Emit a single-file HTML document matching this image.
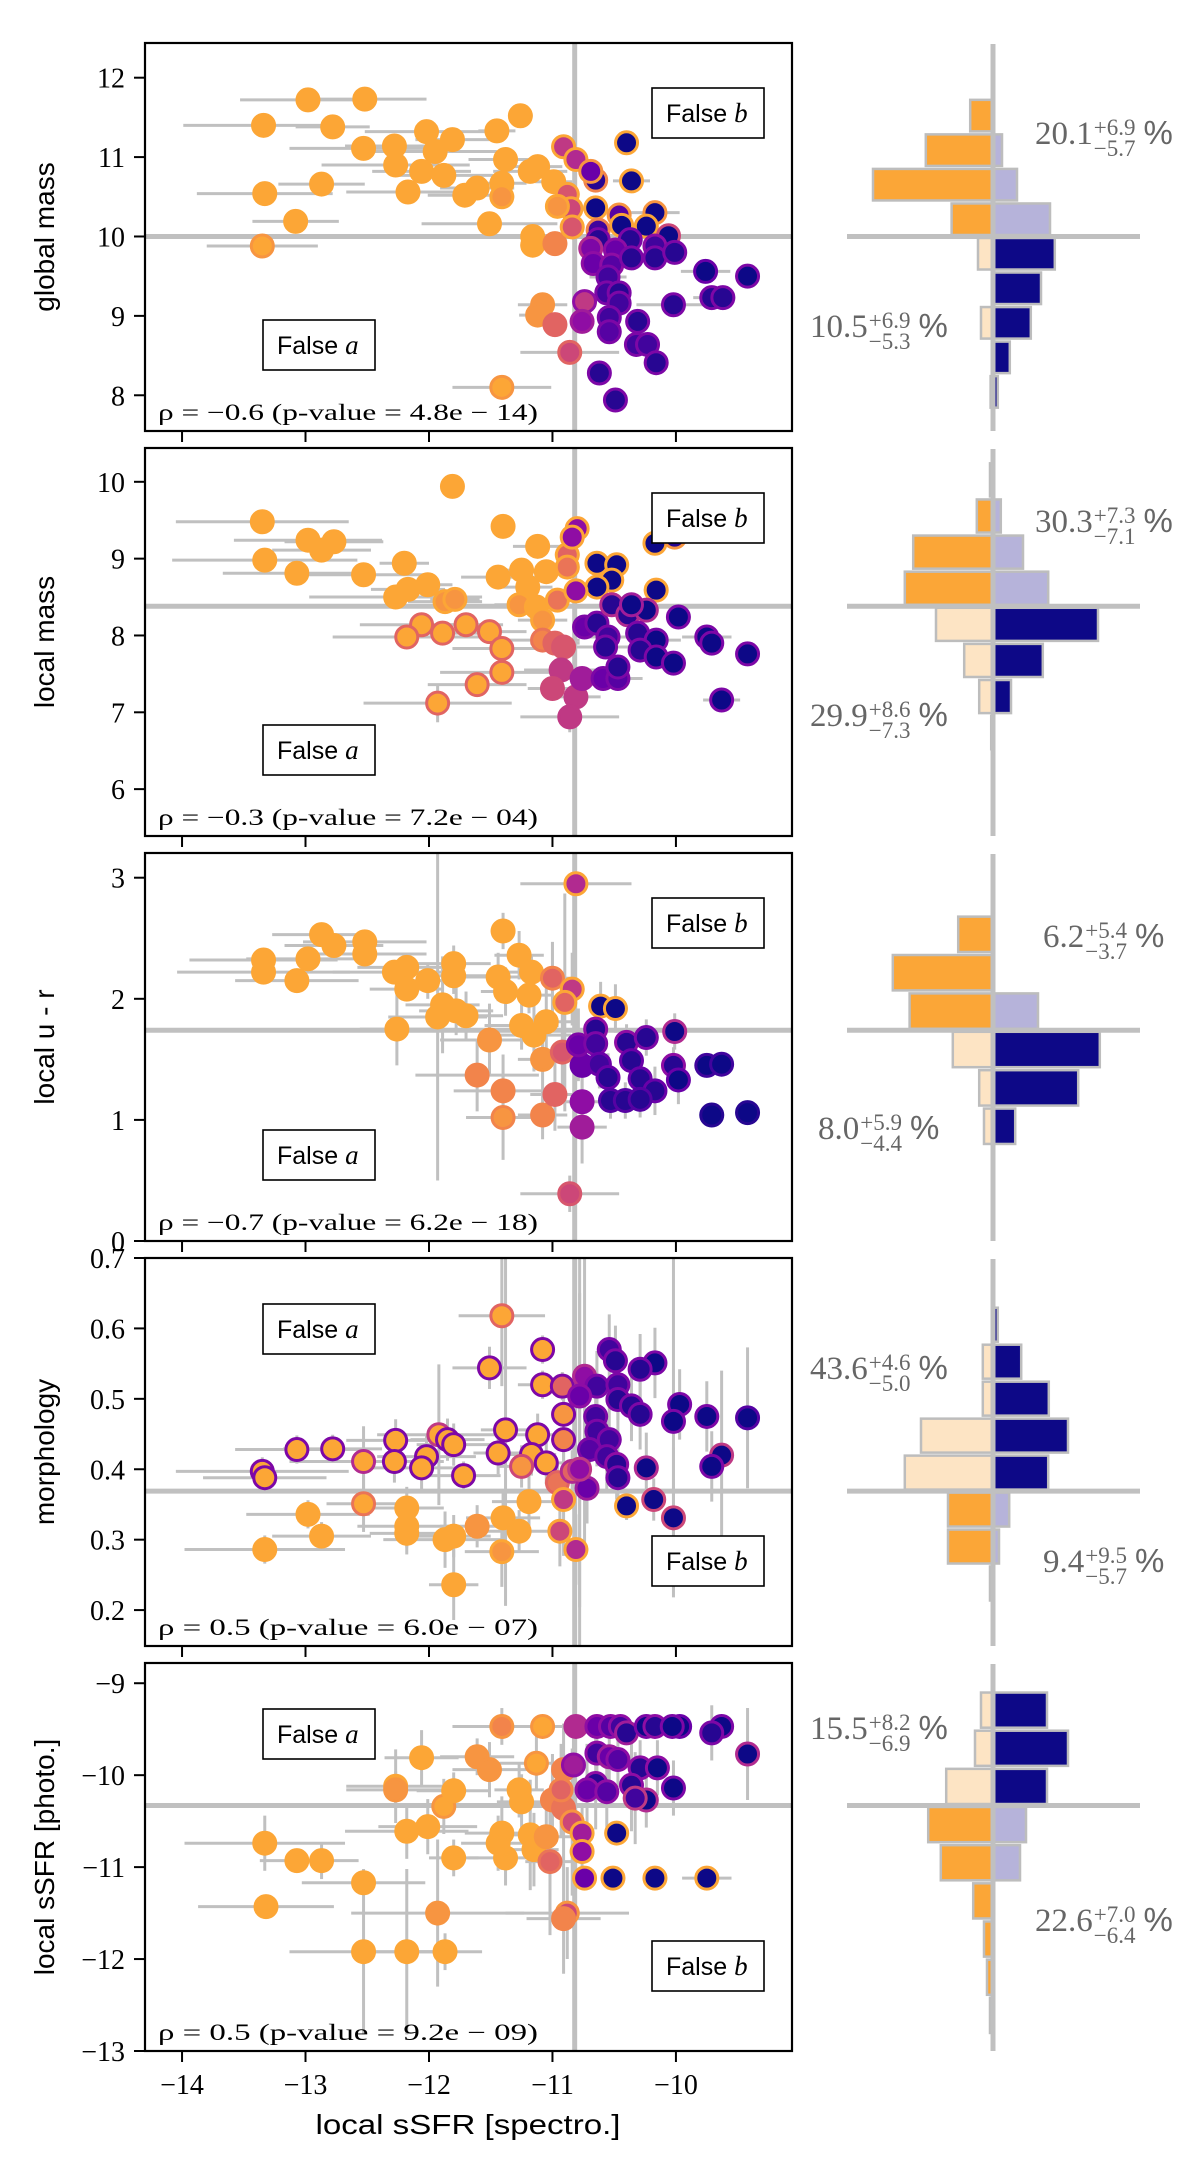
<!DOCTYPE html>
<html><head><meta charset="utf-8">
<style>
html,body{margin:0;padding:0;background:#fff;}
#wrap{position:relative;width:1200px;height:2182px;overflow:hidden;}
svg{position:absolute;left:0;top:0;}
.pct{position:absolute;font-family:"Liberation Serif",serif;font-size:33px;color:#666;white-space:nowrap;line-height:1;}
.ss{display:inline-block;vertical-align:-12px;font-size:23px;line-height:21px;margin-left:1px;}
.ss span{display:block;}
.pc{font-family:"Liberation Sans",sans-serif;margin-left:8px;}
</style></head>
<body>
<div id="wrap">
<svg id="chart" width="1200" height="2182" viewBox="0 0 1200 2182" xmlns="http://www.w3.org/2000/svg"></svg>

<div class="pct" style="left:1035px;top:116px">20.1<span class="ss"><span>+6.9</span><span>−5.7</span></span><span class="pc">%</span></div>
<div class="pct" style="left:810px;top:309px">10.5<span class="ss"><span>+6.9</span><span>−5.3</span></span><span class="pc">%</span></div>
<div class="pct" style="left:1035px;top:504px">30.3<span class="ss"><span>+7.3</span><span>−7.1</span></span><span class="pc">%</span></div>
<div class="pct" style="left:810px;top:698px">29.9<span class="ss"><span>+8.6</span><span>−7.3</span></span><span class="pc">%</span></div>
<div class="pct" style="left:1043px;top:919px">6.2<span class="ss"><span>+5.4</span><span>−3.7</span></span><span class="pc">%</span></div>
<div class="pct" style="left:818px;top:1111px">8.0<span class="ss"><span>+5.9</span><span>−4.4</span></span><span class="pc">%</span></div>
<div class="pct" style="left:810px;top:1351px">43.6<span class="ss"><span>+4.6</span><span>−5.0</span></span><span class="pc">%</span></div>
<div class="pct" style="left:1043px;top:1544px">9.4<span class="ss"><span>+9.5</span><span>−5.7</span></span><span class="pc">%</span></div>
<div class="pct" style="left:810px;top:1711px">15.5<span class="ss"><span>+8.2</span><span>−6.9</span></span><span class="pc">%</span></div>
<div class="pct" style="left:1035px;top:1903px">22.6<span class="ss"><span>+7.0</span><span>−6.4</span></span><span class="pc">%</span></div>
</div>

<script>
// ---------- data ----------
const xTicks = [-14,-13,-12,-11,-10];
const vThreshold = -10.82;

// panel 1: global mass
const p1x = [-12.98,-12.52,-13.34,-12.78,-11.26,-12.02,-11.45,-12.53,-12.28,-11.81,-11.95,-11.38,-12.27,-12.06,-11.88,-12.87,-13.33,-12.17,-11.71,-11.61,-11.41,-11.18,-11.12,-10.99,-13.08,-11.51,-13.35,-11.16,-11.16,-11.41,-10.98,-11.41,-11.08,-11.12,-10.98,-10.86,-10.91,-10.81,-10.88,-10.85,-10.84,-10.96,-10.40,-10.36,-10.65,-10.69,-10.65,-10.46,-10.17,-10.44,-10.24,-10.63,-10.06,-10.63,-10.37,-10.17,-10.69,-10.49,-10.67,-10.52,-10.36,-10.17,-10.01,-9.76,-9.42,-10.55,-10.56,-10.46,-10.74,-10.46,-10.02,-9.71,-9.62,-10.76,-10.54,-10.54,-10.31,-10.32,-10.23,-10.16,-10.62,-10.49];
const p1y = [11.72,11.73,11.40,11.38,11.52,11.32,11.33,11.11,11.14,11.22,11.07,10.97,10.90,10.82,10.77,10.66,10.54,10.56,10.52,10.61,10.67,10.82,10.88,10.69,10.19,10.16,9.88,10.0,9.89,10.50,9.91,8.10,9.14,9.01,8.89,8.54,11.13,10.97,10.53,10.35,10.12,10.38,11.18,10.70,10.71,10.82,10.36,10.27,10.30,10.14,10.13,10.08,10.01,9.96,9.96,9.88,9.85,9.83,9.66,9.64,9.73,9.73,9.80,9.56,9.50,9.49,9.29,9.29,9.18,9.16,9.14,9.23,9.23,8.93,8.98,8.80,8.93,8.64,8.64,8.41,8.28,7.94];
const p1face = [.8,.8,.8,.8,.8,.8,.8,.8,.8,.8,.8,.8,.8,.8,.8,.8,.8,.8,.8,.8,.8,.8,.8,.8,.8,.8,.8,.8,.8,.75,.7,.8,.75,.75,.6,.5,.45,.4,.55,.5,.55,.75,0,0,.05,.2,0,.15,0,0,0,.1,0,.05,.05,.1,.25,.2,.2,.15,.05,.05,.05,0,0,.1,.1,.05,.45,.1,.05,.05,.05,.3,.1,.15,.05,.1,.1,.05,.05,.05];
const p1edge = [.8,.8,.8,.8,.8,.8,.8,.8,.8,.8,.8,.8,.8,.8,.8,.8,.8,.8,.8,.8,.8,.8,.8,.8,.8,.8,.75,.8,.8,.8,.7,.75,.75,.75,.6,.6,.8,.8,.8,.8,.8,.8,.8,.8,.7,.75,.8,.75,.75,.8,.8,.7,.5,.25,.25,.3,.4,.3,.3,.3,.25,.25,.25,.2,.25,.25,.25,.25,.3,.25,.25,.25,.25,.35,.25,.25,.25,.25,.25,.25,.25,.25];
const p1xerr = [.55,.5,.65,.3,.1,.5,.15,.6,.4,.3,.5,.3,.6,.4,.4,.35,.55,.5,.3,.3,.2,.3,.2,.15,.35,.55,.45,.1,.1,.1,.1,.4,.2,.15,.1,.4,.1,.1,.1,.1,.1,.1,.05,.15,.1,.1,.1,.1,.2,.1,.1,.1,.1,.1,.1,.1,.1,.1,.1,.1,.1,.1,.1,.2,.1,.15,.1,.1,.1,.1,.3,.15,.1,.1,.1,.1,.1,.1,.1,.1,.05,.05];
const p1yerr = [];

// panel 2: local mass
const p2x = [-11.81,-13.35,-12.98,-12.87,-12.77,-13.33,-13.07,-12.53,-12.20,-12.27,-12.17,-12.01,-11.87,-11.79,-11.40,-11.12,-11.44,-11.25,-11.20,-11.05,-11.27,-11.13,-11.08,-10.96,-10.88,-10.88,-12.06,-12.18,-11.89,-11.70,-11.51,-11.41,-11.41,-11.61,-11.93,-11.08,-10.98,-10.91,-10.93,-11.00,-10.81,-10.86,-10.76,-10.80,-10.84,-10.64,-10.48,-10.52,-10.64,-10.81,-10.17,-10.01,-10.16,-10.74,-10.64,-10.52,-10.39,-10.24,-10.36,-10.55,-10.31,-10.16,-10.57,-10.29,-10.16,-10.02,-9.98,-9.75,-9.71,-9.42,-9.63,-10.59,-10.47,-10.47];
const p2y = [9.94,9.48,9.24,9.11,9.22,8.98,8.81,8.79,8.94,8.50,8.60,8.66,8.44,8.47,9.42,9.16,8.76,8.85,8.63,8.83,8.40,8.37,8.20,8.46,9.05,8.89,8.14,7.98,8.03,8.14,8.05,7.83,7.52,7.36,7.12,7.94,7.90,7.85,7.55,7.31,7.20,6.94,7.44,9.39,9.28,8.94,8.92,8.72,8.63,8.58,9.20,9.28,8.59,8.11,8.16,8.40,8.27,8.33,8.40,7.98,8.03,7.94,7.85,7.81,7.72,7.64,8.24,7.98,7.90,7.76,7.16,7.44,7.44,7.59];
const p2face = [.8,.8,.8,.8,.8,.8,.8,.8,.8,.8,.8,.8,.75,.75,.8,.8,.8,.8,.8,.8,.75,.8,.75,.65,.6,.65,.8,.8,.8,.8,.8,.8,.8,.8,.8,.7,.6,.55,.45,.5,.45,.45,.35,.3,.3,0,0,0,0,.3,0,.05,0,.2,.05,.05,.05,0,0,.1,.05,0,.05,.05,0,0,0,0,0,0,0,.2,.15,.05];
const p2edge = [.8,.8,.8,.8,.8,.8,.8,.8,.8,.8,.8,.8,.8,.8,.8,.8,.8,.8,.8,.8,.8,.8,.8,.8,.8,.8,.6,.6,.6,.6,.6,.6,.6,.6,.6,.65,.6,.55,.45,.5,.45,.45,.35,.8,.8,.8,.8,.8,.8,.8,.8,.75,.8,.25,.25,.4,.4,.4,.35,.25,.25,.25,.25,.25,.25,.25,.25,.25,.25,.25,.25,.25,.25,.25];
const p2xerr = [0,.7,.6,.4,.4,.75,.6,.5,.2,.7,.3,.2,.3,.2,0,.2,.3,.2,.2,.2,.2,.2,.2,.1,.1,.1,.5,.6,.3,.3,.3,.4,.5,.4,.6,.3,.2,.2,.3,.2,.2,.4,.2,.1,.1,.1,.1,.1,.1,.1,.1,.1,.1,.1,.1,.1,.1,.1,.1,.2,.1,.2,.3,.1,.1,.1,.1,.2,.1,.05,.15,.2,.2,.1];
const p2yerr = [0,0,0,0,0,0,0,0,0,0,0,0,0,0,0,0,0,0,0,0,0,0,0,0,0,0,0,0,0,0,0,0,0,.15,.25,0,0,0,0,.1,0,.2,.1,0,0,0,0,0,0,0,0,0,0,0,0,0,0,0,0,0,0,0,0,0,0,0,0,0,0,0,0,.1,.1,0];

// panel 3: local u - r
const p3x = [-10.81,-12.87,-12.77,-12.52,-12.52,-13.34,-13.34,-12.98,-13.07,-11.40,-11.27,-12.28,-12.18,-12.18,-12.01,-11.80,-11.80,-11.44,-11.38,-11.17,-11.19,-11.89,-11.93,-11.78,-11.70,-12.26,-11.25,-11.15,-11.05,-11.51,-11.08,-11.61,-11.40,-11.40,-11.08,-11.00,-10.84,-10.90,-10.92,-10.98,-10.86,-10.76,-10.76,-10.76,-10.79,-10.61,-10.49,-10.65,-10.65,-10.40,-10.24,-10.01,-10.62,-10.36,-10.55,-10.29,-10.17,-10.02,-9.98,-9.75,-9.63,-10.53,-10.41,-10.29,-9.71,-9.42];
const p3y = [2.95,2.53,2.44,2.47,2.37,2.32,2.22,2.33,2.15,2.56,2.36,2.22,2.26,2.08,2.15,2.29,2.19,2.18,2.06,2.22,2.03,1.95,1.85,1.90,1.86,1.75,1.78,1.70,1.81,1.66,1.50,1.37,1.24,1.02,1.04,2.17,2.08,1.97,1.56,1.21,0.39,1.15,0.94,1.45,1.62,1.94,1.92,1.75,1.63,1.64,1.68,1.73,1.46,1.49,1.35,1.34,1.24,1.45,1.33,1.45,1.46,1.16,1.16,1.17,1.04,1.06];
const p3face = [.4,.8,.8,.8,.8,.8,.8,.8,.8,.8,.8,.8,.8,.8,.8,.8,.8,.8,.8,.8,.8,.8,.8,.8,.8,.8,.8,.8,.8,.75,.75,.7,.7,.75,.7,.6,.45,.6,.55,.6,.5,.3,.35,.2,.2,0,0,.05,.1,.05,.05,0,.1,.05,.05,.05,.05,.05,0,0,0,.05,.05,.05,0,0];
const p3edge = [.8,.8,.8,.8,.8,.8,.8,.8,.8,.8,.8,.8,.8,.8,.8,.8,.8,.8,.8,.8,.8,.8,.8,.8,.8,.8,.8,.8,.8,.75,.75,.7,.7,.7,.7,.7,.8,.8,.6,.6,.55,.3,.35,.2,.25,.8,.8,.3,.25,.3,.25,.4,.2,.2,.2,.2,.2,.3,.2,.1,.1,.15,.15,.15,.05,.05];
const p3xerr = [.45,.4,.4,.5,.5,.6,.7,.5,.5,.1,.2,.5,.4,.3,.3,.3,.3,.3,.2,.2,.2,.3,.4,.3,.3,.3,.3,.3,.2,.4,.2,.5,.4,.3,.2,.2,.1,.1,.2,.2,.4,.2,.2,.1,.1,.1,.1,.1,.1,.1,.1,.1,.1,.1,.1,.1,.1,.1,.1,.1,.1,.1,.1,.1,.1,.1];
const p3yerr = [.1,.05,.05,.05,.05,.05,.05,.05,.05,.15,.2,.1,.1,.1,.15,.15,.15,.2,.2,.15,.15,.4,1.35,.2,.2,.3,.2,.3,.3,.3,.3,.3,.3,.35,.2,.3,.3,.9,.4,.3,.15,.3,.3,.3,.3,.2,.2,.2,.2,.15,.15,.15,.2,.2,.2,.2,.2,.15,.2,.1,.1,.15,.15,.15,.1,.1];

// panel 4: morphology
const p4x = [-11.41,-11.08,-11.51,-11.08,-10.92,-11.38,-11.12,-12.27,-11.92,-11.85,-11.80,-13.07,-12.78,-12.53,-12.28,-12.02,-12.06,-13.35,-13.33,-11.72,-11.44,-11.17,-11.05,-11.25,-10.91,-10.91,-10.96,-10.84,-12.53,-12.98,-12.87,-13.33,-12.18,-12.18,-12.18,-11.87,-11.80,-11.61,-11.40,-11.27,-11.19,-11.41,-11.80,-10.91,-10.94,-10.81,-10.40,-10.18,-10.02,-10.54,-10.49,-10.17,-10.29,-10.74,-10.64,-10.47,-10.78,-10.47,-10.36,-10.29,-10.65,-9.97,-10.02,-9.75,-9.42,-10.64,-10.54,-10.70,-10.56,-10.48,-10.24,-10.72,-9.63,-9.71,-10.47,-10.78];
const p4y = [.618,.570,.544,.520,.518,.456,.449,.441,.449,.442,.435,.428,.429,.411,.411,.418,.402,.397,.388,.391,.423,.421,.409,.404,.442,.478,.381,.397,.351,.336,.305,.286,.345,.319,.309,.300,.305,.319,.331,.312,.354,.283,.236,.357,.312,.286,.348,.357,.331,.570,.554,.551,.542,.532,.518,.520,.504,.499,.490,.478,.475,.492,.468,.475,.473,.454,.442,.428,.418,.407,.402,.373,.420,.404,.388,.400];
const p4face = [.8,.8,.8,.8,.6,.8,.8,.8,.8,.8,.8,.8,.8,.8,.8,.8,.8,.8,.8,.8,.8,.8,.8,.75,.7,.75,.65,.6,.8,.8,.8,.8,.8,.8,.8,.8,.8,.75,.8,.8,.8,.75,.8,.45,.5,.4,0,0,0,.1,.05,0,.05,.3,.1,.1,.2,.05,.05,.05,.1,0,0,0,0,.1,.1,.15,.1,.05,0,.2,0,0,.05,.3];
const p4edge = [.6,.25,.25,.25,.25,.25,.25,.25,.45,.25,.25,.25,.25,.4,.25,.25,.25,.25,.25,.25,.25,.25,.25,.5,.25,.25,.6,.4,.65,.8,.8,.8,.8,.8,.8,.8,.8,.75,.8,.8,.8,.8,.8,.8,.8,.8,.8,.5,.5,.25,.25,.25,.25,.4,.25,.25,.3,.25,.25,.25,.25,.25,.25,.25,.15,.25,.25,.25,.25,.3,.4,.35,.45,.25,.25,.45];
const p4xerr = [.35,.1,.3,.2,.2,.2,.3,.4,.5,.3,.3,.5,.4,.6,.4,.4,.4,.7,.5,.3,.2,.2,.2,.2,.1,.1,.1,.1,.3,.5,.4,.65,.3,.4,.3,.5,.3,.3,.3,.3,.3,.3,.2,.1,.1,.1,.05,.05,.05,.1,.1,.1,.1,.1,.1,.1,.1,.1,.1,.1,.1,.1,.1,.1,.1,.1,.1,.1,.1,.1,.1,.1,.1,.1,.1,.1];
const p4yerr = [.1,.02,.03,.02,.02,.25,.03,.03,.1,.03,.03,.02,.02,.05,.03,.03,.03,.02,.02,.02,.03,.03,.03,.03,.03,.03,.03,.03,.04,.02,.02,.02,.03,.03,.03,.04,.03,.03,.04,.03,.04,.05,.05,.08,.05,.05,.02,.03,.1,.05,.05,.05,.05,.25,.05,.05,.3,.05,.05,.05,.05,.05,.25,.05,.1,.05,.05,.05,.05,.05,.05,.05,.12,.05,.05,.25];

// panel 5: local sSFR [photo.]
const p5x = [-13.33,-13.07,-12.87,-13.32,-12.53,-12.53,-12.18,-11.87,-11.93,-11.80,-12.18,-12.01,-11.88,-11.80,-12.27,-12.27,-12.06,-11.61,-11.51,-11.41,-11.08,-11.13,-11.27,-11.25,-11.41,-11.44,-11.38,-11.18,-11.15,-11.05,-10.91,-11.00,-10.91,-10.93,-10.84,-10.76,-10.76,-11.02,-10.88,-10.91,-10.74,-10.51,-10.17,-9.75,-10.48,-10.81,-10.64,-10.53,-10.45,-10.40,-10.24,-10.17,-9.97,-10.03,-9.63,-9.71,-9.42,-10.83,-10.64,-10.54,-10.47,-10.29,-10.15,-10.65,-10.72,-10.56,-10.36,-10.02,-10.24,-10.33];
const p5y = [-10.74,-10.93,-10.93,-11.43,-11.17,-11.92,-11.92,-11.92,-11.50,-10.90,-10.61,-10.56,-10.34,-10.17,-10.12,-10.16,-9.81,-9.80,-9.94,-9.47,-9.47,-9.87,-10.16,-10.29,-10.63,-10.74,-10.90,-10.65,-10.81,-10.67,-9.94,-10.27,-10.36,-10.16,-10.51,-10.63,-10.83,-10.94,-11.50,-11.56,-11.12,-11.12,-11.12,-11.12,-10.63,-9.47,-9.47,-9.47,-9.47,-9.54,-9.47,-9.47,-9.47,-9.47,-9.47,-9.54,-9.77,-9.89,-9.76,-9.80,-9.83,-9.92,-9.92,-10.09,-10.16,-10.18,-10.11,-10.14,-10.27,-10.25];
const p5face = [.8,.8,.8,.8,.8,.8,.8,.8,.75,.8,.8,.8,.8,.8,.8,.75,.8,.75,.75,.7,.8,.8,.8,.8,.8,.8,.8,.8,.8,.75,.7,.7,.65,.6,.5,.35,.3,.6,.5,.7,.2,0,0,0,0,.4,.2,.15,.1,.05,0,.05,0,0,0,.05,0,.35,.1,.2,.15,.05,0,.05,.2,.15,.05,0,0,.1];
const p5edge = [.8,.8,.8,.8,.8,.8,.8,.8,.75,.8,.8,.8,.75,.8,.8,.75,.8,.75,.75,.75,.75,.75,.8,.8,.8,.8,.8,.8,.8,.75,.7,.7,.65,.7,.75,.8,.8,.65,.75,.7,.8,.8,.8,.8,.8,.4,.3,.3,.3,.35,.25,.3,.2,.25,.25,.25,.4,.3,.3,.35,.3,.3,.3,.3,.3,.3,.3,.25,.4,.45];
const p5xerr = [.65,.3,.3,.55,.5,.6,.3,.3,.7,.2,.5,.4,.5,.3,.4,.4,.3,.3,.3,.4,.3,.3,.2,.2,.3,.3,.3,.2,.2,.2,.1,.1,.1,.1,.1,.1,.1,.2,.5,.3,.1,.1,.1,.2,.1,.1,.1,.1,.1,.1,.1,.1,.1,.1,.1,.1,.1,.1,.1,.1,.1,.1,.1,.1,.1,.1,.1,.1,.1,.1];
const p5yerr = [.3,.1,.2,.1,.1,.9,.9,.2,.8,.2,.3,.3,.3,.2,.4,.2,.3,.2,.3,.2,.1,.3,.3,.3,.4,.3,.3,.6,.4,.3,.5,.5,.6,.5,.8,.3,.3,.8,.5,.6,.05,.05,.05,.05,.05,.1,.1,.1,.1,.1,.1,.1,.1,.1,.1,.3,.5,.3,.3,.3,.3,.3,.3,.5,.5,.5,.5,.3,.3,.5];

// histogram counts (index 0 = bin adjacent to threshold)
const h1AboveLeft = [6.9,20,11.2,3.8], h1AboveRight = [9.5,4,1.5], h1BelowLeft = [2.5,0,2,0,0.4], h1BelowRight = [10.3,8,6.3,2.8,0.8];
const h2AboveLeft = [14.7,13.3,2.7,0.5], h2AboveRight = [9.2,5,1.3], h2BelowLeft = [9.5,4.8,2.3,0.3], h2BelowRight = [17.5,8.3,3];
const h3AboveLeft = [13.9,16.7,5.8], h3AboveRight = [7.5], h3BelowLeft = [6.7,2.3,1.5], h3BelowRight = [17.8,14.2,3.7];
const h4AboveLeft = [14.7,12,1.7,1.7], h4AboveRight = [9.2,12.5,9.3,4.7,0.8], h4BelowLeft = [7.5,7.5,0.5], h4BelowRight = [2.7,1];
const h5AboveLeft = [7.8,3,2], h5AboveRight = [9,12.5,9], h5BelowLeft = [10.8,8.7,3.3,1.5,1,0.5], h5BelowRight = [5.5,4.5];

const rhoLabels = ["ρ = −0.6 (p-value = 4.8e − 14)","ρ = −0.3 (p-value = 7.2e − 04)","ρ = −0.7 (p-value = 6.2e − 18)","ρ = 0.5 (p-value = 6.0e − 07)","ρ = 0.5 (p-value = 9.2e − 09)"];
const yLabels = ["global mass","local mass","local u - r","morphology","local sSFR [photo.]"];
const yTickSets = [[8,9,10,11,12],[6,7,8,9,10],[0,1,2,3],[0.2,0.3,0.4,0.5,0.6,0.7],[-13,-12,-11,-10,-9]];
const hThresholds = [10.0,8.38,1.74,0.369,-10.33];

// ---------- layout ----------
const SVGNS = "http://www.w3.org/2000/svg";
const svg = document.getElementById('chart');
const L = 145, R = 792, H = 388;
const tops = [43,448,853,1258,1663];
const yDomains = [[7.55,12.437],[5.39,10.44],[0,3.204],[0.149,0.7],[-13,-8.78]];
const binW = [0.435,0.47,0.317,0.0525,0.415];
const hAbove = [[h1AboveLeft,h1AboveRight],[h2AboveLeft,h2AboveRight],[h3AboveLeft,h3AboveRight],[h4AboveLeft,h4AboveRight],[h5AboveLeft,h5AboveRight]];
const hBelow = [[h1BelowLeft,h1BelowRight],[h2BelowLeft,h2BelowRight],[h3BelowLeft,h3BelowRight],[h4BelowLeft,h4BelowRight],[h5BelowLeft,h5BelowRight]];
const colAbove = [["#fba637","#b6b3da"],["#fba637","#b6b3da"],["#fba637","#b6b3da"],["#fde4c4","#0d0887"],["#fde4c4","#0d0887"]];
const colBelow = [["#fde4c4","#0d0887"],["#fde4c4","#0d0887"],["#fde4c4","#0d0887"],["#fba637","#b6b3da"],["#fba637","#b6b3da"]];
const falseAPos = ["bottom","bottom","bottom","top","top"];
const series = [
  [p1x,p1y,p1face,p1edge,p1xerr,p1yerr],
  [p2x,p2y,p2face,p2edge,p2xerr,p2yerr],
  [p3x,p3y,p3face,p3edge,p3xerr,p3yerr],
  [p4x,p4y,p4face,p4edge,p4xerr,p4yerr],
  [p5x,p5y,p5face,p5edge,p5xerr,p5yerr]
];
const XMIN = -14.3, XMAX = -9.06;
const HC = 993, HSCALE = 6;

function xScale(v){ return L + (v - XMIN) / (XMAX - XMIN) * (R - L); }
function makeY(i){ const d = yDomains[i], t = tops[i]; return v => t + (d[1] - v) / (d[1] - d[0]) * H; }

const plasmaStops = ["#0d0887","#41049d","#6a00a8","#8f0da4","#b12a90","#cc4778","#e16462","#f2844b","#fca636","#fcce25","#f0f921"];
function hex2rgb(h){ return [parseInt(h.substr(1,2),16),parseInt(h.substr(3,2),16),parseInt(h.substr(5,2),16)]; }
function plasma(t){
  t = Math.max(0, Math.min(1, t));
  const s = t * (plasmaStops.length - 1), i = Math.min(Math.floor(s), plasmaStops.length - 2), f = s - i;
  const a = hex2rgb(plasmaStops[i]), b = hex2rgb(plasmaStops[i+1]);
  return "rgb(" + a.map((c,k)=>Math.round(c + (b[k]-c)*f)).join(",") + ")";
}
function el(tag, attrs, parent){
  const e = document.createElementNS(SVGNS, tag);
  for (const k in attrs) e.setAttribute(k, attrs[k]);
  (parent || svg).appendChild(e);
  return e;
}
const GRAY = "#c0c0c0";

for (let p = 0; p < 5; p++){
  const top = tops[p], bot = top + H, ys = makeY(p);
  const g = el('g', {});
  
  

  const hl = el('line', {x1:L, x2:R, y1:ys(hThresholds[p]), y2:ys(hThresholds[p]), stroke:GRAY, 'stroke-width':5}, g);
  
  
  const vl = el('line', {x1:xScale(vThreshold), x2:xScale(vThreshold), y1:top, y2:bot, stroke:GRAY, 'stroke-width':5}, g);
  
  

  const [xs, yv, fc, ec, xe, ye] = series[p];
  const n = Math.min(xs.length, yv.length, fc.length, ec.length);
  const clip = 'clip' + p;
  const cp = el('clipPath', {id: clip}, g);
  el('rect', {x:L, y:top, width:R-L, height:H}, cp);
  const eg = el('g', {'clip-path':'url(#' + clip + ')'}, g);
  
  
  for (let i = 0; i < n; i++){
    const cx = xScale(xs[i]), cy = ys(yv[i]);
    const dx = xe[i] || 0, dy = ye[i] || 0;
    if (dx > 0){
      const e1 = el('line', {x1:xScale(xs[i]-dx), x2:xScale(xs[i]+dx), y1:cy, y2:cy, stroke:GRAY, 'stroke-width':3}, eg);
      
      
    }
    if (dy > 0){
      const e2 = el('line', {x1:cx, x2:cx, y1:ys(yv[i]-dy), y2:ys(yv[i]+dy), stroke:GRAY, 'stroke-width':3}, eg);
      
      
    }
  }
  const pg = el('g', {'clip-path':'url(#' + clip + ')'}, g);
  
  
  for (let i = 0; i < n; i++){
    const c = el('circle', {cx:xScale(xs[i]), cy:ys(yv[i]), r:11, fill:plasma(fc[i]), stroke:plasma(ec[i]), 'stroke-width':3}, pg);
    
    
  }

  const fr = el('rect', {x:L, y:top, width:R-L, height:H, fill:'none', stroke:'#000', 'stroke-width':2.2}, g);
  
  

  yTickSets[p].forEach(v => {
    const y = ys(v);
    el('line', {x1:L-11, x2:L, y1:y, y2:y, stroke:'#000', 'stroke-width':2}, g);
    const t = el('text', {x:L-20, y:y+10, 'text-anchor':'end', 'font-family':'"Liberation Serif", serif', 'font-size':28, fill:'#000'}, g);
    t.textContent = (v < 0 ? '−' + Math.abs(v) : (p === 3 ? v.toFixed(1) : String(v)));
    
    
  });
  xTicks.forEach(v => {
    const x = xScale(v);
    el('line', {x1:x, x2:x, y1:bot, y2:bot+11, stroke:'#000', 'stroke-width':2}, g);
    if (p === 4){
      const t = el('text', {x:x, y:2094, 'text-anchor':'middle', 'font-family':'"Liberation Serif", serif', 'font-size':28, fill:'#000'}, g);
      t.textContent = '−' + Math.abs(v);
      
      
    }
  });

  const cy = top + H/2;
  const yl = el('text', {x:0, y:0, transform:'translate(54,' + cy + ') rotate(-90)', 'text-anchor':'middle', 'font-family':'"Liberation Sans", sans-serif', 'font-size':28, fill:'#000'}, g);
  yl.textContent = yLabels[p];
  
  

  const rt = el('text', {x:158, y:bot-11, 'font-family':'"Liberation Serif", serif', 'font-size':23, fill:'#000', textLength:380, lengthAdjust:'spacingAndGlyphs'}, g);
  rt.textContent = rhoLabels[p];
  
  

  const aTop = falseAPos[p] === 'bottom' ? top + 277 : top + 46;
  const bTop = falseAPos[p] === 'bottom' ? top + 45 : top + 278;
  [[263, aTop, 'a'], [652, bTop, 'b']].forEach(([bx, by, lab]) => {
    const bg = el('g', {}, g);
    
    
    el('rect', {x:bx, y:by, width:112, height:50, fill:'#fff', stroke:'#000', 'stroke-width':1.6}, bg);
    const t = el('text', {x:bx+14, y:by+34, 'font-family':'"Liberation Sans", sans-serif', 'font-size':25, fill:'#000'}, bg);
    t.textContent = 'False ';
    const ts = el('tspan', {'font-family':'"Liberation Serif", serif', 'font-style':'italic', 'font-size':27}, t);
    ts.textContent = lab;
  });

  const hg = el('g', {}, svg);
  
  
  const thr = hThresholds[p], bw = binW[p];
  const drawBars = (arr, dir, side, color, name) => {
    arr.forEach((c, k) => {
      if (c <= 0) return;
      const v0 = thr + dir * k * bw, v1 = thr + dir * (k + 1) * bw;
      const y0 = Math.min(ys(v0), ys(v1)), y1 = Math.max(ys(v0), ys(v1));
      const w = c * HSCALE;
      const x = side < 0 ? HC - w : HC;
      const r = el('rect', {x:x, y:y0 + 1.5, width:w, height:y1 - y0 - 3, fill:color, stroke:'#bdbdbd', 'stroke-width':2.5}, hg);
      
      
    });
  };
  drawBars(hAbove[p][0], 1, -1, colAbove[p][0], 'hist-bar-above-left');
  drawBars(hAbove[p][1], 1, 1, colAbove[p][1], 'hist-bar-above-right');
  drawBars(hBelow[p][0], -1, -1, colBelow[p][0], 'hist-bar-below-left');
  drawBars(hBelow[p][1], -1, 1, colBelow[p][1], 'hist-bar-below-right');
  const ha = el('line', {x1:HC, x2:HC, y1:top + 1, y2:bot, stroke:GRAY, 'stroke-width':5}, hg);
  
  
  const ht = el('line', {x1:847, x2:1140, y1:ys(thr), y2:ys(thr), stroke:GRAY, 'stroke-width':5}, hg);
  
  
}

const xl = el('text', {x:468, y:2134, 'text-anchor':'middle', 'font-family':'"Liberation Sans", sans-serif', 'font-size':28, fill:'#000', textLength:305, lengthAdjust:'spacingAndGlyphs'});
xl.textContent = 'local sSFR [spectro.]';


</script>
</body></html>
